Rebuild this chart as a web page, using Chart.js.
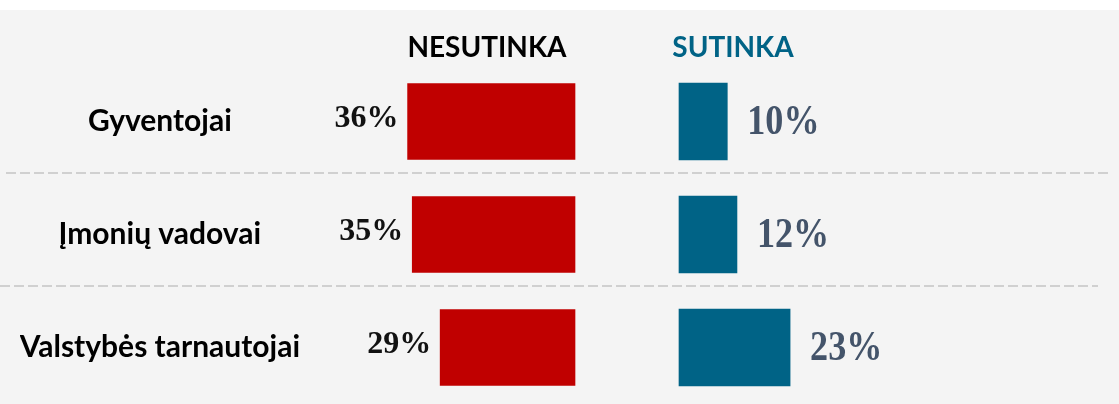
<!DOCTYPE html>
<html lang="lt">
<head>
<meta charset="utf-8">
<title>Nesutinka / Sutinka</title>
<script src="https://cdn.jsdelivr.net/npm/chart.js@4/dist/chart.umd.min.js"></script>
<style>
    body { margin: 0; background: #ffffff; }
    #wrap { width: 1119px; height: 404px; }
</style>
</head>
<body>
<div id="wrap"><canvas id="chart" width="1119" height="404"></canvas></div>
<script>
// Survey groups and answer shares (%)
const groups = ['Gyventojai', 'Įmonių vadovai', 'Valstybės tarnautojai'];
const disagree = [36, 35, 29];
const agree = [10, 12, 23];
const seriesNames = ['NESUTINKA', 'SUTINKA'];

const RED = '#c00000';
const TEAL = '#006386';
const SLATE = '#44546a';
const PANEL = '#f4f4f4';

// plot area in canvas pixels
const AREA_LEFT = 320;
const AREA_RIGHT = 1119;

// min/max for an x axis so that zero lands on zeroPx with the given pixels per percent
function axisRange(zeroPx, pxPerUnit, reverse) {
    const width = AREA_RIGHT - AREA_LEFT;
    const range = width / pxPerUnit;
    const fromStart = reverse ? (AREA_RIGHT - zeroPx) : (zeroPx - AREA_LEFT);
    const min = -fromStart / pxPerUnit;
    return { min: min, max: min + range };
}

const leftRange = axisRange(575, 4.65, true);
const rightRange = axisRange(679, 4.83, false);

const panelBackground = {
    id: 'panelBackground',
    beforeDraw(chart) {
        const ctx = chart.ctx;
        ctx.save();
        ctx.fillStyle = '#ffffff';
        ctx.fillRect(0, 0, chart.width, chart.height);
        ctx.fillStyle = PANEL;
        ctx.fillRect(0, 10, chart.width, chart.height - 10);
        ctx.restore();
    }
};

// dashed separators between the groups
const separators = {
    id: 'separators',
    beforeDatasetsDraw(chart) {
        const ctx = chart.ctx;
        const y = chart.scales.y;
        ctx.save();
        ctx.strokeStyle = '#c4c4c4';
        ctx.lineWidth = 1.5;
        ctx.setLineDash([10, 4]);
        for (let i = 0; i < groups.length - 1; i++) {
            const py = Math.round((y.getPixelForValue(i) + y.getPixelForValue(i + 1)) / 2) - 5;
            ctx.beginPath();
            ctx.moveTo(i === 0 ? 6 : 0, py);
            ctx.lineTo(i === 0 ? 1110 : 1098, py);
            ctx.stroke();
        }
        ctx.restore();
    }
};

// column headers and value labels
const labels = {
    id: 'labels',
    afterDatasetsDraw(chart) {
        const ctx = chart.ctx;
        ctx.save();

        ctx.font = 'bold 28px Lato';
        ctx.textAlign = 'center';
        ctx.textBaseline = 'alphabetic';
        ctx.fillStyle = '#000000';
        ctx.fillText(seriesNames[0], 487, 57);
        ctx.fillStyle = TEAL;
        ctx.fillText(seriesNames[1], 733, 57);

        // red side: value to the left of the bar
        ctx.font = 'bold 32px "Liberation Serif"';
        ctx.textAlign = 'right';
        ctx.textBaseline = 'middle';
        ctx.fillStyle = '#111111';
        chart.getDatasetMeta(0).data.forEach((bar, i) => {
            ctx.fillText(disagree[i] + '%', bar.x - 9, bar.y - 3);
        });

        // teal side: value to the right of the bar, narrow and tall
        ctx.font = 'bold 42px "Liberation Serif"';
        ctx.textAlign = 'left';
        ctx.fillStyle = SLATE;
        chart.getDatasetMeta(1).data.forEach((bar, i) => {
            ctx.save();
            ctx.translate(bar.x + 20, bar.y + 2);
            ctx.scale(0.86, 1);
            ctx.fillText(agree[i] + '%', 0, 0);
            ctx.restore();
        });

        ctx.restore();
    }
};

new Chart(document.getElementById('chart'), {
    type: 'bar',
    data: {
        labels: groups,
        datasets: [{
            label: seriesNames[0],
            data: disagree,
            xAxisID: 'xL',
            backgroundColor: RED,
            borderWidth: 0,
            barThickness: 76,
            grouped: false
        }, {
            label: seriesNames[1],
            data: agree,
            xAxisID: 'xR',
            backgroundColor: TEAL,
            borderWidth: 0,
            barThickness: 77,
            grouped: false
        }]
    },
    options: {
        indexAxis: 'y',
        responsive: false,
        animation: false,
        layout: { padding: { top: 65, left: 20, right: 0, bottom: 0 } },
        plugins: {
            legend: { display: false },
            tooltip: { enabled: false }
        },
        scales: {
            xL: {
                type: 'linear',
                display: false,
                reverse: true,
                min: leftRange.min,
                max: leftRange.max
            },
            xR: {
                type: 'linear',
                display: false,
                min: rightRange.min,
                max: rightRange.max
            },
            y: {
                type: 'category',
                offset: true,
                border: { display: false },
                grid: { display: false, drawTicks: false },
                ticks: {
                    color: '#000000',
                    font: { family: 'Lato', weight: 'bold', size: 30 },
                    crossAlign: 'center',
                    padding: 20
                },
                afterFit(scale) {
                    scale.width = AREA_LEFT - 20;
                    // labels sit inside the category bands, no extra room needed
                    scale.paddingTop = 0;
                    scale.paddingBottom = 0;
                }
            }
        }
    },
    plugins: [panelBackground, separators, labels]
});
</script>
</body>
</html>
